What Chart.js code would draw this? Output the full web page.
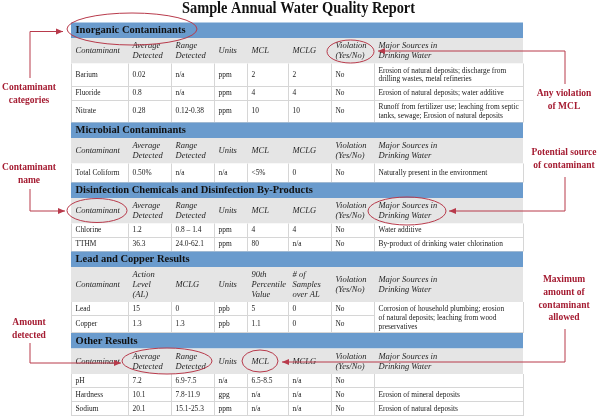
<!DOCTYPE html>
<html>
<head>
<meta charset="utf-8">
<title>Sample Annual Water Quality Report</title>
<script src="https://cdn.jsdelivr.net/npm/chart.js@4.4.1/dist/chart.umd.min.js"></script>
<style>
  html, body { margin: 0; padding: 0; background: #fff; }
  #wrap { width: 600px; height: 420px; }
</style>
</head>
<body>
<div id="wrap"><canvas id="report" width="600" height="420"></canvas></div>
<script>
// Water quality report table, drawn on a Chart.js canvas through its x/y scales

var reportTitle = 'Sample Annual Water Quality Report';

var sectionTitles = [
  'Inorganic Contaminants',
  'Microbial Contaminants',
  'Disinfection Chemicals and Disinfection By-Products',
  'Lead and Copper Results',
  'Other Results'
];

var standardHeaders = [
  ['Contaminant'], ['Average', 'Detected'], ['Range', 'Detected'], ['Units'],
  ['MCL'], ['MCLG'], ['Violation', '(Yes/No)'], ['Major Sources in', 'Drinking Water']
];

var leadHeaders = [
  ['Contaminant'], ['Action', 'Level', '(AL)'], ['MCLG'], ['Units'],
  ['90th', 'Percentile', 'Value'], ['# of', 'Samples', 'over AL'], ['Violation', '(Yes/No)'],
  ['Major Sources in', 'Drinking Water']
];

var inorganicRows = [
  ['Barium', '0.02', 'n/a', 'ppm', '2', '2', 'No', ['Erosion of natural deposits; discharge from', 'drilling wastes, metal refineries']],
  ['Fluoride', '0.8', 'n/a', 'ppm', '4', '4', 'No', ['Erosion of natural deposits; water additive']],
  ['Nitrate', '0.28', '0.12-0.38', 'ppm', '10', '10', 'No', ['Runoff from fertilizer use; leaching from septic', 'tanks, sewage; Erosion of natural deposits']]
];

var microbialRows = [
  ['Total Coliform', '0.50%', 'n/a', 'n/a', '<5%', '0', 'No', ['Naturally present in the environment']]
];

var disinfectionRows = [
  ['Chlorine', '1.2', '0.8 \u2013 1.4', 'ppm', '4', '4', 'No', ['Water additive']],
  ['TTHM', '36.3', '24.0-62.1', 'ppm', '80', 'n/a', 'No', ['By-product of drinking water chlorination']]
];

var leadRows = [
  ['Lead', '15', '0', 'ppb', '5', '0', 'No'],
  ['Copper', '1.3', '1.3', 'ppb', '1.1', '0', 'No']
];
var leadSources = ['Corrosion of household plumbing; erosion', 'of natural deposits; leaching from wood', 'preservatives'];

var otherRows = [
  ['pH', '7.2', '6.9-7.5', 'n/a', '6.5-8.5', 'n/a', 'No', []],
  ['Hardness', '10.1', '7.8-11.9', 'gpg', 'n/a', 'n/a', 'No', ['Erosion of mineral deposits']],
  ['Sodium', '20.1', '15.1-25.3', 'ppm', 'n/a', 'n/a', 'No', ['Erosion of natural deposits']]
];

var calloutLabels = [
  ['Contaminant', 'categories'],
  ['Contaminant', 'name'],
  ['Amount', 'detected'],
  ['Any violation', 'of MCL'],
  ['Potential source', 'of contaminant'],
  ['Maximum', 'amount of', 'contaminant', 'allowed']
];

// ---- layout and styles (page units, mapped through the chart scales) ----
var SERIF = '"Liberation Serif", "DejaVu Serif", serif';
var titleWidth = 233;
var colEdges = [71, 128, 171, 214, 247, 288, 331, 374, 523];
var tableTop = 22.5;
var bandHeight = 15.5;
var sectionLayout = [
  { header: 25.5, rows: [23, 14, 22] },
  { header: 25.5, rows: [19] },
  { header: 25.5, rows: [14, 14] },
  { header: 35, rows: [14, 17] },
  { header: 25.5, rows: [14, 14, 14] }
];
var calloutLayout = [
  { x: 29, y: 88, path: [[30, 78], [30, 31.5], [63, 31.5]], ellipse: [132, 29, 65, 16] },
  { x: 29, y: 168, path: [[30, 189], [30, 211], [65, 211]], ellipse: [97, 210.5, 30, 12] },
  { x: 29, y: 323, path: [[30, 343], [30, 363], [121, 363]], ellipse: [167, 361, 45, 13] },
  { x: 564, y: 94, path: [[565, 84], [565, 51], [378, 51]], ellipse: [350.5, 51.5, 23.5, 11.5] },
  { x: 564, y: 153, path: [[565, 177], [565, 211], [449, 211]], ellipse: [407, 211, 39, 14] },
  { x: 564, y: 280, path: [[565, 329], [565, 362], [282, 362]], ellipse: [260, 361, 18, 11] }
];
var colors = {
  band: '#6a9bcd',
  header: '#e5e5e5',
  grid: '#d6d6d6',
  cellText: '#1a1a1a',
  headerText: '#262626',
  callout: '#a51c32',
  calloutLine: '#b83a4b'
};

var sections = [
  { title: sectionTitles[0], headers: standardHeaders, rows: inorganicRows },
  { title: sectionTitles[1], headers: standardHeaders, rows: microbialRows },
  { title: sectionTitles[2], headers: standardHeaders, rows: disinfectionRows },
  { title: sectionTitles[3], headers: leadHeaders, rows: leadRows, sharedSource: leadSources },
  { title: sectionTitles[4], headers: standardHeaders, rows: otherRows }
];

function drawLines(ctx, lines, x, yMid, lineHeight) {
  var y0 = yMid - (lines.length - 1) * lineHeight / 2;
  lines.forEach(function(line, i) {
    ctx.fillText(line, x, y0 + i * lineHeight);
  });
}

var tablePlugin = {
  id: 'waterTable',
  afterDraw: function(chart) {
    var ctx = chart.ctx;
    var sx = chart.scales.x, sy = chart.scales.y;
    function px(v) { return sx.getPixelForValue(v); }
    function py(v) { return sy.getPixelForValue(v); }
    var left = px(colEdges[0]);
    var right = px(colEdges[colEdges.length - 1]);

    ctx.save();

    // title, squeezed a little to match the condensed original face
    ctx.fillStyle = '#111';
    ctx.font = 'bold 16px ' + SERIF;
    ctx.textAlign = 'center';
    ctx.textBaseline = 'middle';
    var squeeze = (px(titleWidth) - px(0)) / ctx.measureText(reportTitle).width;
    ctx.save();
    ctx.translate(px(298.5), py(9));
    ctx.scale(squeeze, 1);
    ctx.fillText(reportTitle, 0, 0);
    ctx.restore();

    ctx.textAlign = 'left';
    var y = tableTop;
    sections.forEach(function(sec, si) {
      var lay = sectionLayout[si];

      // blue category band
      ctx.fillStyle = colors.band;
      ctx.fillRect(left, py(y), right - left, py(y + bandHeight) - py(y));
      ctx.fillStyle = '#111';
      ctx.font = 'bold 10.5px ' + SERIF;
      ctx.fillText(sec.title, px(colEdges[0] + 4.5), py(y + bandHeight / 2 + 0.5));
      y += bandHeight;

      // grey header row
      ctx.fillStyle = colors.header;
      ctx.fillRect(left, py(y), right - left, py(y + lay.header) - py(y));
      ctx.fillStyle = colors.headerText;
      ctx.font = 'italic 8.5px ' + SERIF;
      sec.headers.forEach(function(lines, c) {
        drawLines(ctx, lines, px(colEdges[c] + 4.5), py(y + lay.header / 2 + 0.5), 10);
      });
      y += lay.header;

      // data rows
      var rowsTop = y;
      var rowsBottom = y + lay.rows.reduce(function(a, b) { return a + b; }, 0);
      ctx.fillStyle = '#fff';
      ctx.fillRect(left, py(rowsTop), right - left, py(rowsBottom) - py(rowsTop));

      ctx.strokeStyle = colors.grid;
      ctx.lineWidth = 1;
      ctx.beginPath();
      colEdges.forEach(function(e) {
        var xx = Math.round(px(e)) + 0.5;
        ctx.moveTo(xx, py(rowsTop));
        ctx.lineTo(xx, py(rowsBottom));
      });
      var ry = rowsTop;
      lay.rows.forEach(function(h, ri) {
        ry += h;
        var yy = Math.round(py(ry)) - 0.5;
        var lineRight = (sec.sharedSource && ri < lay.rows.length - 1) ? px(colEdges[7]) : right;
        ctx.moveTo(left, yy);
        ctx.lineTo(lineRight, yy);
      });
      ctx.stroke();

      ctx.fillStyle = colors.cellText;
      ctx.font = '7.4px ' + SERIF;
      sec.rows.forEach(function(row, ri) {
        var h = lay.rows[ri];
        var mid = py(y + h / 2);
        row.forEach(function(cell, c) {
          var lines = Array.isArray(cell) ? cell : [cell];
          drawLines(ctx, lines, px(colEdges[c] + 4.5), mid, 8.6);
        });
        y += h;
      });
      if (sec.sharedSource) {
        drawLines(ctx, sec.sharedSource, px(colEdges[7] + 4.5), py((rowsTop + rowsBottom) / 2 + 0.5), 8.6);
      }
    });

    // callouts: ellipses, elbow arrows and labels
    calloutLayout.forEach(function(co, i) {
      var e = co.ellipse;
      ctx.strokeStyle = colors.calloutLine;
      ctx.lineWidth = 1;
      ctx.beginPath();
      ctx.ellipse(px(e[0]), py(e[1]), px(e[0] + e[2]) - px(e[0]), Math.abs(py(e[1] + e[3]) - py(e[1])), 0, 0, Math.PI * 2);
      ctx.stroke();

      ctx.beginPath();
      co.path.forEach(function(p, k) {
        if (k === 0) ctx.moveTo(px(p[0]), py(p[1]));
        else ctx.lineTo(px(p[0]), py(p[1]));
      });
      ctx.stroke();

      var tip = co.path[co.path.length - 1];
      var prev = co.path[co.path.length - 2];
      var ang = Math.atan2(py(tip[1]) - py(prev[1]), px(tip[0]) - px(prev[0]));
      ctx.fillStyle = colors.calloutLine;
      ctx.save();
      ctx.translate(px(tip[0]), py(tip[1]));
      ctx.rotate(ang);
      ctx.beginPath();
      ctx.moveTo(0, 0);
      ctx.lineTo(-7, -3);
      ctx.lineTo(-7, 3);
      ctx.closePath();
      ctx.fill();
      ctx.restore();

      ctx.fillStyle = colors.callout;
      ctx.font = 'bold 9.5px ' + SERIF;
      ctx.textAlign = 'center';
      calloutLabels[i].forEach(function(line, k) {
        ctx.fillText(line, px(co.x), py(co.y + k * 12.6));
      });
      ctx.textAlign = 'left';
    });

    ctx.restore();
  }
};

new Chart(document.getElementById('report'), {
  type: 'scatter',
  data: { datasets: [] },
  options: {
    responsive: false,
    devicePixelRatio: 1,
    animation: false,
    layout: { padding: 0 },
    plugins: {
      legend: { display: false },
      tooltip: { enabled: false },
      title: { display: false }
    },
    scales: {
      x: { type: 'linear', min: 0, max: 600, display: false },
      y: { type: 'linear', min: 0, max: 420, reverse: true, display: false }
    }
  },
  plugins: [tablePlugin]
});
</script>
</body>
</html>
